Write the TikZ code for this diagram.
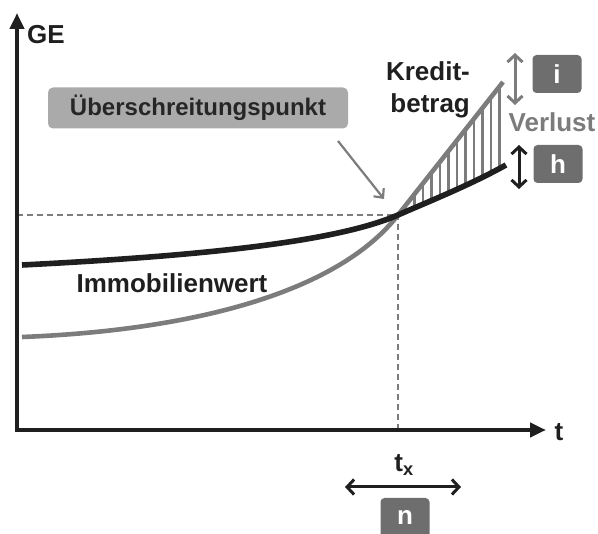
\documentclass[tikz,border=0pt]{standalone}
\usepackage{fontspec}
\setmainfont{Liberation Sans}
\usetikzlibrary{arrows.meta}
\definecolor{tagfill}{HTML}{6E6E6E}
\definecolor{notefill}{HTML}{AAAAAA}
\definecolor{credit}{HTML}{7C7C7C}
\newcommand{\bigbf}{\fontsize{26}{32}\selectfont\bfseries}

\begin{document}
\begin{tikzpicture}[x=1pt,y=-1pt,
  lbl/.style={font=\bigbf, text=black!88, inner sep=0pt},
  tag/.style={fill=tagfill, rounded corners=4pt, minimum width=49pt, minimum height=38pt, text=white, font=\bigbf},
  axis/.style={line width=4.5pt, black!88, line join=miter, {Triangle[length=16pt,width=14pt]}-{Triangle[length=16pt,width=14pt]}},
  dbl/.style={line width=3pt, {Straight Barb[length=7pt,width=15pt]}-{Straight Barb[length=7pt,width=15pt]}}]
\useasboundingbox (0,0) rectangle (598,534);

\coordinate (O) at (17,430);
\coordinate (ytop) at (17,13);
\coordinate (xend) at (546,430);
\coordinate (S) at (398,215);

% Hilfslinien
\draw[credit, line width=1.2pt, dash pattern=on 6pt off 4pt] (O |- S) -- (S) -- (O -| S);

% Schraffur Verlust
\begin{scope}
\clip (S) -- (503,82) -- (506,165) .. controls (470,185) and (430,201) .. (S);
\foreach \x in {406,414.5,...,502}
  \draw[credit, line width=2.2pt] (\x,60) -- (\x,225);
\end{scope}

% Kurven
\draw[credit, line width=4.6pt] (22,337) .. controls (200,330) and (340,290) .. (S) -- (503,82);
\draw[black!88, line width=5.6pt] (22,265) .. controls (220,255) and (340,240) .. (S) .. controls (430,201) and (470,185) .. (506,165);

% Achsen
\draw[axis] (ytop) -- (O) -- (xend);
\node[lbl] (ge) at (46,35) {GE};
\node[lbl] (t) at (559,432) {t};
\node[lbl] (tx) at (404,465) {t\textsubscript{x}};

\node[lbl] (immo) at (172,283) {Immobilienwert};
\node[lbl, align=right] (kredit) at (428,90) {Kredit-\\betrag};
\node[lbl, text=credit] (verlust) at (552,122) {Verlust};

\node[fill=notefill, rounded corners=5pt, minimum width=300pt, minimum height=41pt,
  text=black!85, font=\fontsize{24}{28}\selectfont\bfseries] (pkt) at (198,108) {Überschreitungspunkt};
\coordinate (pktarr) at (338,141);
\draw[credit, line width=2.2pt, -{Straight Barb[length=7pt,width=13pt]}] (pktarr) -- (384,199);

% Markierungen
\node[tag] (i) at (557,74) {i};
\node[tag] (h) at (558,164) {h};
\node[tag, minimum height=40pt] (n) at (405,518) {n};
\coordinate (ia) at (515,53);
\coordinate (ib) at (515,105);
\coordinate (ha) at (519,145);
\coordinate (hb) at (519,189);
\coordinate (na) at (345,487);
\coordinate (nb) at (461,487);
\draw[dbl, credit] (ia) -- (ib);
\draw[dbl, black!88] (ha) -- (hb);
\draw[dbl, black!88] (na) -- (nb);
\end{tikzpicture}
\end{document}
